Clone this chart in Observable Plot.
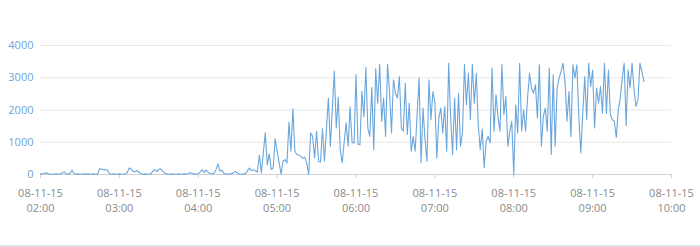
<!DOCTYPE html>
<html>
<head>
<meta charset="utf-8">
<script src="https://cdn.jsdelivr.net/npm/d3@7"></script>
<script src="https://cdn.jsdelivr.net/npm/@observablehq/plot@0.6"></script>
<style>
  html, body { margin: 0; padding: 0; background: #fff; }
  #chart { width: 700px; height: 247px; box-sizing: border-box; border-bottom: 2px solid #e4e4e4; overflow: hidden; }
</style>
</head>
<body>
<div id="chart"></div>
<script>
// Series start and sampling step (90 s)
const startTime = "2015-08-11T02:00:00Z";
const stepSeconds = 90;

// Requests per sample
const countsNight = [
  20,20,30,50,20,10,10,10,20,10,20,50,80,20,10,40,140,30,
  10,20,10,10,20,10,20,10,10,20,10,20,
  180,170,150,150,130,20,
  10,20,10,10,20,10,10,20,
  60,200,170,100,80,130,60,30,
  10,20,10,10,20,
  100,150,90,160,170,100,40,
  20,10,10,20,10,10,20,10,10,20,10,
  30,60,20,20,10,20,
  80,150,60,140,70,30,20,40,
  150,330,100,130,30,
  20,10,20,20,
  60,90,40
];
const countsRise = [
  10,10,20,30,120,200,120,150,110,80,
  600,50,670,1290,300,640,150,200,1110,720,
  370,20,410,460,360,1620,720,2040,720,620,
  610,560,500,540,360,0,1290,1180,510,1340,
  410,390,1420,410,1400,2370,880,2050,3210,1440,
  2390,770,360,1000,1600,880,2100
];
const countsDay1 = [
  1000,970,3100,930,920,2570,1800,3320,1440,1180,
  2700,770,3280,2210,3420,1650,2370,1180,3420,2570,
  1290,2940,2520,2370,3040,1440,1340,2830,1240,2210,
  720,1180,720,1850,2990,360,2060,1080,410,2940,
  1700,2570,2240,510,1750,2060,1290,2110,720,3450,
  1750,620,2370,770,2520
];
const countsDay2 = [
  880,1290,3420,2160,3140,1700,3420,2210,3140,1550,
  770,1410,210,1030,1180,980,3300,1340,2470,1780,
  1340,3420,1850,2420,880,1340,1650,0,2160,1290,
  3450,1340,2010,1340,2370,3140,2680,2520,2780,1750,
  3400,880,1800,2060,1340,3300,620,3090,880,2680,
  2990,3190,3450,2880,1650,2570,1180,3400,2990,3400,
  1800,670
];
const countsDay3 = [
  1900,3040,1700,3450,2730,3240,1440,2680,2210,2730,
  1900,3450,1900,3240,1850,1700,1650,1150,2010,2350,
  2990,3450,1520,3240,2680,3450,2630,2110,2320,3450,
  3190,2880
];

// Axis ticks
const yTicks = [0, 1000, 2000, 3000, 4000];
const xTickHours = ["02:00","03:00","04:00","05:00","06:00","07:00","08:00","09:00","10:00"];
const xTickDay = "2015-08-11";

const counts = [...countsNight, ...countsRise, ...countsDay1, ...countsDay2, ...countsDay3];
const t0 = new Date(startTime).getTime();
const data = counts.map((v, i) => ({ t: new Date(t0 + i * stepSeconds * 1000), v }));
const xTicks = xTickHours.map(h => new Date(`${xTickDay}T${h}:00Z`));

const fmtDate = d3.utcFormat("%m-%d-%y");
const fmtTime = d3.utcFormat("%H:%M");

const plot = Plot.plot({
  width: 700,
  height: 245,
  marginLeft: 40,
  marginRight: 29,
  marginTop: 45,
  marginBottom: 71,
  style: { fontFamily: "'Open Sans', 'Noto Sans', sans-serif", fontSize: "11px", background: "#fff" },
  x: { type: "utc", domain: [xTicks[0], xTicks[xTicks.length - 1]], label: null },
  y: { domain: [0, 4000], label: null },
  marks: [
    Plot.gridY(yTicks, { stroke: "#e8e8e8", strokeOpacity: 1 }),
    Plot.ruleY([0], { stroke: "#d0d0d0" }),
    Plot.axisY(yTicks, { tickSize: 0, tickPadding: 7, color: "#6aa6dc", fontSize: 11, label: null, tickFormat: d => String(d) }),
    Plot.axisX(xTicks, {
      tickSize: 4,
      tickPadding: 8,
      stroke: "#d0d0d0",
      color: "#8a8a8a",
      fontSize: 11,
      lineHeight: 1.35,
      label: null,
      tickFormat: d => fmtDate(d) + "\n" + fmtTime(d)
    }),
    Plot.lineY(data, { x: "t", y: "v", stroke: "#6aa6dc", strokeWidth: 1.1 })
  ]
});
plot.querySelectorAll("[aria-label='x-axis tick label']").forEach(el => el.setAttribute("fill", "#8a8a8a"));
document.getElementById("chart").appendChild(plot);
</script>
</body>
</html>
